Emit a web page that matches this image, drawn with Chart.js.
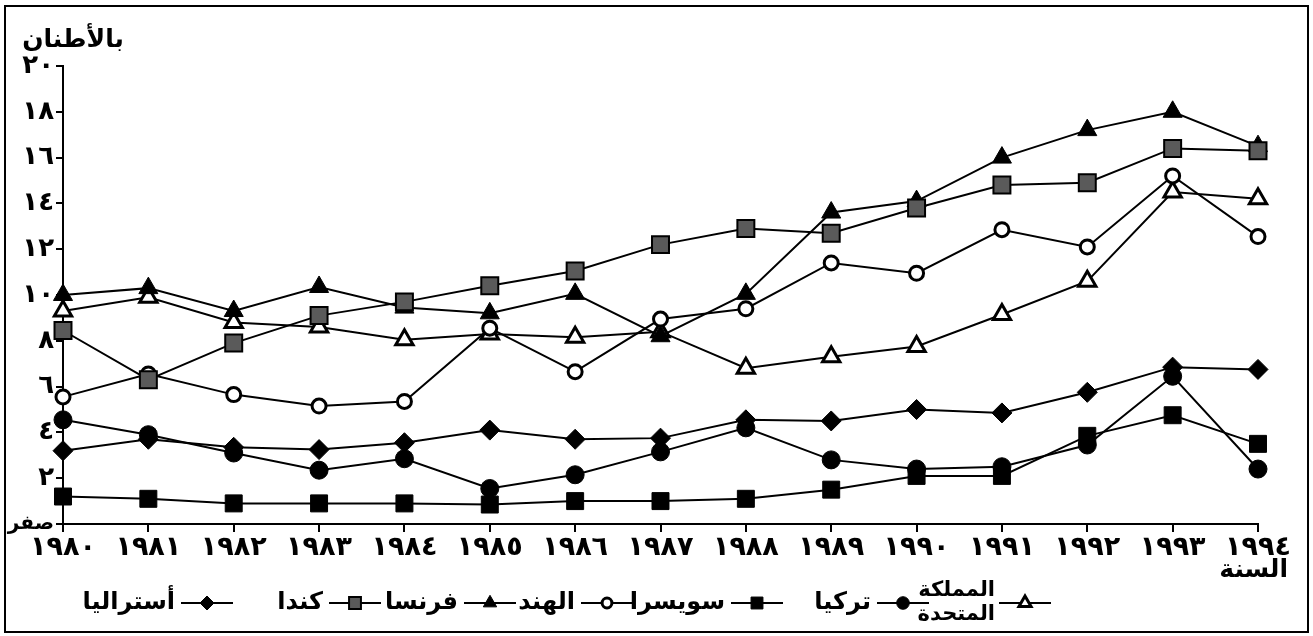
<!DOCTYPE html>
<html lang="ar">
<head>
    <meta charset="UTF-8">
    <title>الإنتاج بالأطنان</title>
    <style>
        body {
            margin: 0;
            padding: 0;
            background-color: #ffffff;
        }
        .chart-box {
            width: 1313px;
            height: 636px;
        }
    </style>
</head>
<body>
    <div class="chart-box">
        <canvas id="tonsChart" width="1313" height="636"></canvas>
    </div>

    <script src="https://cdn.jsdelivr.net/npm/chart.js"></script>
    <script>
        // categories and tick labels
        const years = ['١٩٨٠', '١٩٨١', '١٩٨٢', '١٩٨٣', '١٩٨٤', '١٩٨٥', '١٩٨٦', '١٩٨٧', '١٩٨٨', '١٩٨٩', '١٩٩٠', '١٩٩١', '١٩٩٢', '١٩٩٣', '١٩٩٤'];
        const yTickLabels = ['صفر', '٢', '٤', '٦', '٨', '١٠', '١٢', '١٤', '١٦', '١٨', '٢٠'];
        const unitLabel = 'بالأطنان';
        const xTitle = 'السنة';

        // series values
        const australia   = [3.2, 3.7, 3.35, 3.25, 3.55, 4.1, 3.7, 3.75, 4.55, 4.5, 5.0, 4.85, 5.75, 6.85, 6.75];
        const canada      = [8.45, 6.3, 7.9, 9.1, 9.7, 10.4, 11.05, 12.2, 12.9, 12.7, 13.8, 14.8, 14.9, 16.4, 16.3];
        const france      = [10.0, 10.3, 9.3, 10.35, 9.45, 9.2, 10.05, 8.2, 10.05, 13.6, 14.1, 16.0, 17.2, 18.0, 16.5];
        const india       = [5.55, 6.55, 5.65, 5.15, 5.35, 8.55, 6.65, 8.95, 9.4, 11.4, 10.95, 12.85, 12.1, 15.2, 12.55];
        const switzerland = [1.2, 1.1, 0.9, 0.9, 0.9, 0.85, 1.0, 1.0, 1.1, 1.5, 2.1, 2.1, 3.85, 4.75, 3.5];
        const turkey      = [4.55, 3.9, 3.1, 2.35, 2.85, 1.55, 2.15, 3.15, 4.2, 2.8, 2.4, 2.5, 3.45, 6.45, 2.4];
        const uk          = [9.3, 9.9, 8.8, 8.6, 8.05, 8.3, 8.15, 8.4, 6.8, 7.3, 7.75, 9.15, 10.6, 14.5, 14.2];

        const FONT = '"DejaVu Sans", sans-serif';

        function makeSeries(label, data, style, radius, fill, borderWidth) {
            return {
                label: label,
                data: data,
                borderColor: '#000',
                borderWidth: 2,
                tension: 0,
                fill: false,
                pointStyle: style,
                pointRadius: radius,
                pointHoverRadius: radius,
                pointBackgroundColor: fill,
                pointBorderColor: '#000',
                pointBorderWidth: borderWidth
            };
        }

        // marker centres of the hand-drawn legend, left to right
        const legendX = [207, 355, 490, 607, 757, 903, 1025];

        const frameAndLegend = {
            id: 'frameAndLegend',
            afterDraw(chart) {
                const ctx = chart.ctx;
                ctx.save();
                ctx.strokeStyle = '#000';
                ctx.lineWidth = 2;
                ctx.strokeRect(5, 6, 1303, 626);

                ctx.fillStyle = '#000';
                ctx.direction = 'rtl';
                ctx.textAlign = 'right';
                ctx.textBaseline = 'middle';
                ctx.font = 'bold 25px ' + FONT;
                ctx.fillText(unitLabel, 124, 40);
                ctx.fillText(xTitle, 1288, 570);

                const cy = 603;
                chart.data.datasets.forEach((ds, i) => {
                    const cx = legendX[i];
                    ctx.strokeStyle = '#000';
                    ctx.lineWidth = 2;
                    ctx.beginPath();
                    ctx.moveTo(cx - 26, cy);
                    ctx.lineTo(cx + 26, cy);
                    ctx.stroke();

                    ctx.fillStyle = ds.pointBackgroundColor;
                    ctx.lineWidth = ds.pointBorderWidth;
                    Chart.helpers.drawPoint(ctx, {
                        pointStyle: ds.pointStyle,
                        radius: ds.pointRadius * 0.7,
                        borderWidth: ds.pointBorderWidth,
                        rotation: 0
                    }, cx, cy);

                    ctx.fillStyle = '#000';
                    const words = ds.label.split(' ');
                    if (words.length > 1) {
                        ctx.font = 'bold 21px ' + FONT;
                        words.forEach((w, k) => ctx.fillText(w, cx - 30, cy - 12 + k * 24));
                    } else {
                        ctx.font = 'bold 24px ' + FONT;
                        ctx.fillText(ds.label, cx - 32, cy);
                    }
                });
                ctx.restore();
            }
        };

        const ctx = document.getElementById('tonsChart').getContext('2d');
        new Chart(ctx, {
            type: 'line',
            data: {
                labels: years,
                datasets: [
                    makeSeries('أستراليا', australia, 'rectRot', 10, '#000', 1),
                    makeSeries('كندا', canada, 'rect', 12, '#5a5a5a', 2),
                    makeSeries('فرنسا', france, 'triangle', 11, '#000', 1),
                    makeSeries('الهند', india, 'circle', 7, '#fff', 3),
                    makeSeries('سويسرا', switzerland, 'rect', 12, '#000', 1),
                    makeSeries('تركيا', turkey, 'circle', 9, '#000', 1),
                    makeSeries('المملكة المتحدة', uk, 'triangle', 10, '#fff', 3)
                ]
            },
            options: {
                responsive: false,
                animation: false,
                layout: {
                    padding: { left: 0, right: 55, top: 66, bottom: 72 }
                },
                plugins: {
                    legend: { display: false },
                    tooltip: { enabled: false }
                },
                scales: {
                    x: {
                        offset: false,
                        grid: { drawOnChartArea: false, color: '#000', tickLength: 8, lineWidth: 2 },
                        border: { color: '#000', width: 2 },
                        ticks: {
                            color: '#000',
                            autoSkip: false,
                            maxRotation: 0,
                            padding: 0,
                            font: { family: FONT, size: 27, weight: 'bold' }
                        },
                        afterFit(scale) { scale.height = 40; }
                    },
                    y: {
                        min: 0,
                        max: 20,
                        grid: { drawOnChartArea: false, color: '#000', tickLength: 7, lineWidth: 2 },
                        border: { color: '#000', width: 2 },
                        ticks: {
                            stepSize: 2,
                            color: '#000',
                            padding: 2,
                            font: function(c) {
                                // the word for zero is longer, keep it inside the frame
                                return c.tick && c.tick.value === 0
                                    ? { family: FONT, size: 20, weight: 'bold' }
                                    : { family: FONT, size: 26, weight: 'bold' };
                            },
                            callback: function(value) {
                                return yTickLabels[value / 2];
                            }
                        },
                        afterFit(scale) { scale.width = 63; }
                    }
                }
            },
            plugins: [frameAndLegend]
        });
    </script>
</body>
</html>
